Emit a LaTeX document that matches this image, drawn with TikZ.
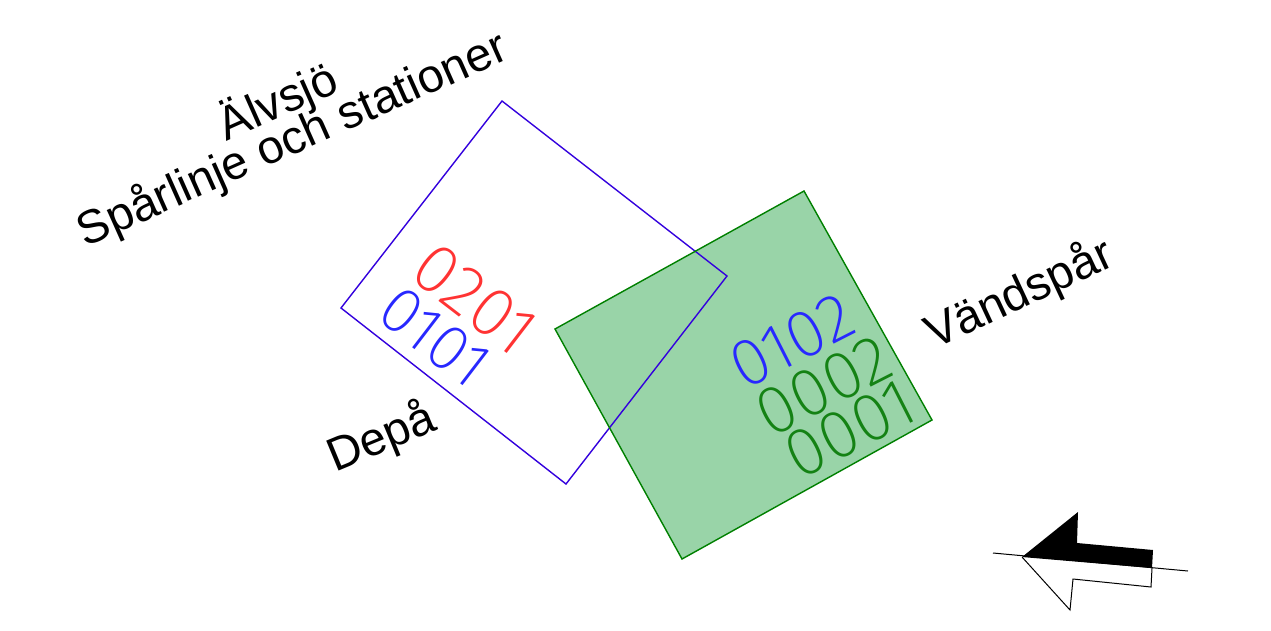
\documentclass[tikz,border=0pt]{standalone}
\usepackage{fontspec}
\setmainfont{Liberation Sans}
\newfontfamily\digitfont{Fira Sans ExtraLight}
\definecolor{boxblue}{RGB}{51,0,221}
\definecolor{boxgreen}{RGB}{0,128,0}
\definecolor{fillgreen}{RGB}{153,212,168}
\definecolor{digred}{RGB}{255,51,51}
\definecolor{digblue}{RGB}{40,40,255}
\definecolor{diggreen}{RGB}{20,130,20}
\tikzset{
  frameA/.style={draw=boxblue, line width=1.4pt},
  frameB/.style={draw=boxgreen, line width=1.4pt},
  areaB/.style={fill=fillgreen},
  lbl/.style={inner sep=0pt, font=\fontsize{47}{47}\selectfont},
  digs/.style={inner sep=0pt, anchor=center},
  thinline/.style={draw=black, line width=1pt},
}
\begin{document}
\begin{tikzpicture}[x=1pt,y=-1pt]
\useasboundingbox (0,0) rectangle (1271,630);
\fill[white] (0,0) rectangle (1271,630);
% green area
\coordinate (g1) at (804,191);
\coordinate (g2) at (932,420);
\coordinate (g3) at (682,559);
\coordinate (g4) at (555,329);
\fill[areaB] (g1) -- (g2) -- (g3) -- (g4) -- cycle;
% blue frame
\coordinate (b1) at (502,101);
\coordinate (b2) at (727,276);
\coordinate (b3) at (566,484);
\coordinate (b4) at (341,308);
\draw[frameA] (b1) -- (b2) -- (b3) -- (b4) -- cycle;
\draw[frameB] (g1) -- (g2) -- (g3) -- (g4) -- cycle;
% digits
\node[digs, rotate=-37.5, text=digred, font=\digitfont\fontsize{70}{70}\selectfont] (r1) at (475,299) {0201};
\node[digs, rotate=-37.5, text=digblue, font=\digitfont\fontsize{65}{65}\selectfont] (r2) at (435,337) {0101};
\node[digs, rotate=27, text=digblue, font=\digitfont\fontsize{67}{67}\selectfont] (s1) at (792,341) {0102};
\node[digs, rotate=27, text=diggreen, font=\digitfont\fontsize{68}{68}\selectfont] (s2) at (823.5,386) {0002};
\node[digs, rotate=27, text=diggreen, font=\digitfont\fontsize{68}{68}\selectfont] (s3) at (850,429) {0001};
% labels
\node[lbl, anchor=base, rotate=24] (t1) at (284,116) {Älvsjö};
\node[lbl, anchor=base, rotate=24] (t2) at (298,153) {Spårlinje och stationer};
\node[lbl, anchor=base west, rotate=22.5] (t3) at (335,473) {Depå};
\node[lbl, anchor=base west, rotate=25] (t4) at (934,350) {Vändspår};
% arrow symbol
\coordinate (l1) at (993,553);
\coordinate (l2) at (1188,571);
\coordinate (tip) at (1022,557);
\coordinate (a1) at (1078,512);
\coordinate (a2) at (1077,543);
\coordinate (a3) at (1153,550);
\coordinate (a4) at (1152,568);
\coordinate (c1) at (1070,610);
\coordinate (c2) at (1073,579);
\coordinate (c3) at (1151,587);
\fill[black] (tip) -- (a1) -- (a2) -- (a3) -- (a4) -- cycle;
\draw[thinline, line join=miter] (tip) -- (c1) -- (c2) -- (c3) -- (a4);
\draw[thinline] (l1) -- (l2);
\end{tikzpicture}
\end{document}
